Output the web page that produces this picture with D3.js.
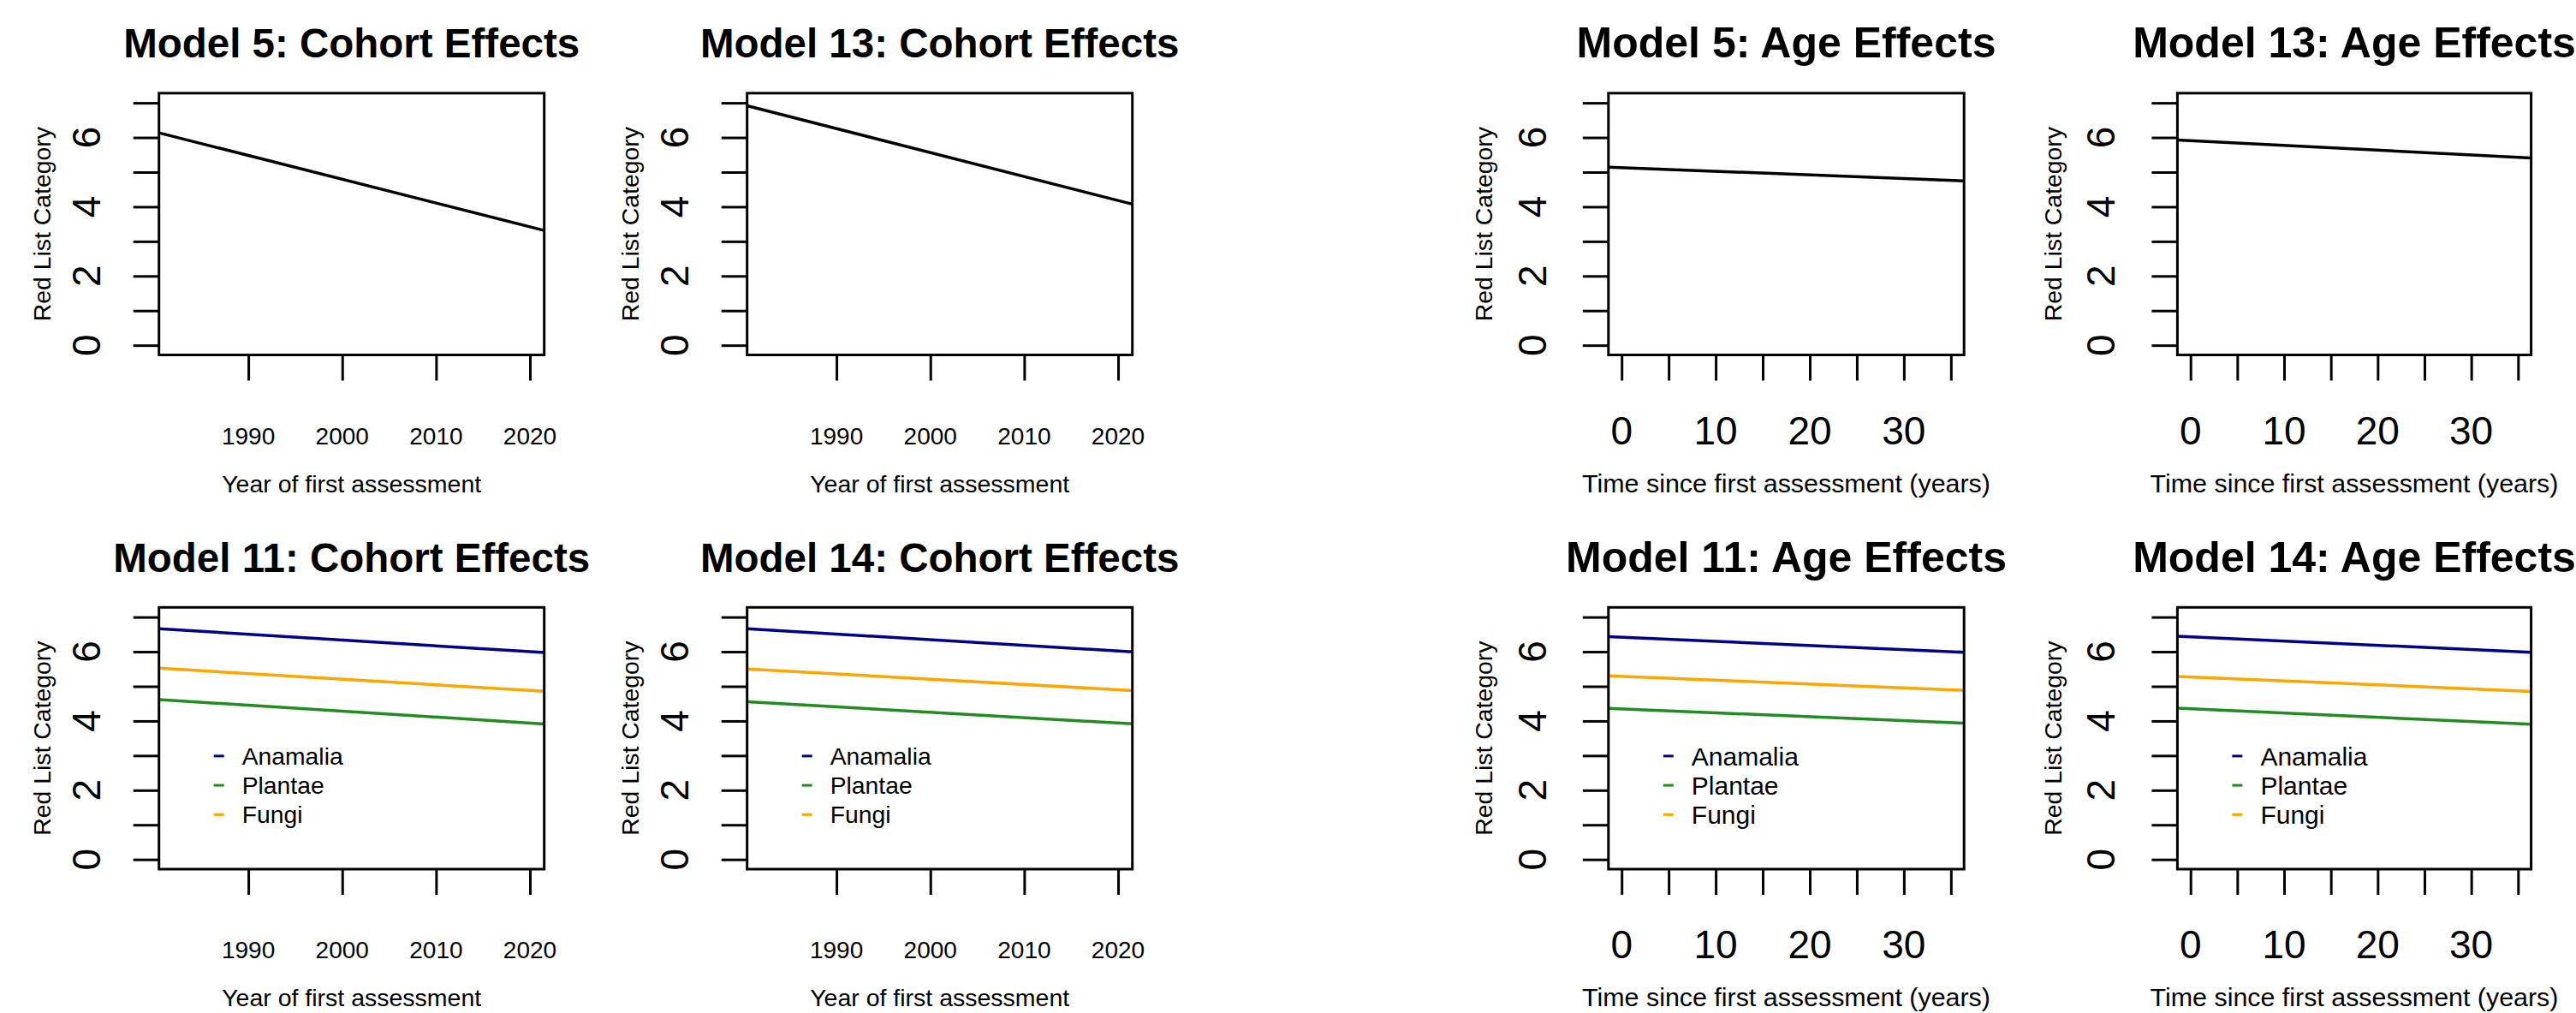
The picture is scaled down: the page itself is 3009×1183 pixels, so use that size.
<!DOCTYPE html>
<html>
<head>
<meta charset="utf-8">
<script src="https://cdn.jsdelivr.net/npm/d3@7"></script>
<style>
  html, body { margin: 0; padding: 0; background: #fff; }
  svg { display: block; }
  text { font-family: "Liberation Sans", Arial, sans-serif; fill: #000; }
</style>
</head>
<body>
<svg id="chart"></svg>
<script>
// axis ranges and ticks
const cohortLim = [1982, 2020];
const ageLim = [0, 35];
const yLim = [0, 7];
const cohortTicks = [1990, 2000, 2010, 2020];
const ageTicks = [0, 5, 10, 15, 20, 25, 30, 35];
const ageTickLabels = [0, 10, 20, 30];
const yTicks = [0, 1, 2, 3, 4, 5, 6, 7];
const yTickLabels = [0, 2, 4, 6];

const kingdoms = ["Anamalia", "Plantae", "Fungi"];
const kingdomColors = ["#00008B", "#228B22", "#FFA500"];

// fitted values at start / end of the x limits
const m5Cohort = [6.03, 3.42];
const m13Cohort = [6.81, 4.18];
const m5Age = [5.13, 4.76];
const m13Age = [5.91, 5.43];
// order: Anamalia, Plantae, Fungi
const m11Cohort = [[6.64, 6.00], [4.59, 3.94], [5.50, 4.88]];
const m14Cohort = [[6.64, 6.02], [4.53, 3.94], [5.48, 4.90]];
const m11Age = [[6.42, 6.00], [4.35, 3.95], [5.29, 4.90]];
const m14Age = [[6.43, 6.00], [4.35, 3.92], [5.27, 4.87]];

const W = 3009, H = 1183;
const svg = d3.select("#chart").attr("width", W).attr("height", H);
svg.append("rect").attr("width", W).attr("height", H).attr("fill", "#fff");

// R style 4% axis padding
const pad = ([a, b]) => [a - 0.04 * (b - a), b + 0.04 * (b - a)];

const cols = [
  {x0: 185.7, x1: 635.7, type: "cohort"},
  {x0: 872.7, x1: 1322.7, type: "cohort"},
  {x0: 1878.8, x1: 2294.2, type: "age"},
  {x0: 2543.4, x1: 2956.6, type: "age"}
];
const rowTop = [108.8, 709.3];
const boxH = 305.7;

const styles = {
  cohort: {title: 47.5, xTitle: 28.5, xTick: 28, yTickOff: 85, yTitleOff: 134, legend: 28.3,
           xlab: "Year of first assessment", lim: cohortLim, ticks: cohortTicks, labels: cohortTicks, kind: "Cohort"},
  age: {title: 50, xTitle: 30.4, xTick: 46, yTickOff: 89.5, yTitleOff: 143, legend: 30,
        xlab: "Time since first assessment (years)", lim: ageLim, ticks: ageTicks, labels: ageTickLabels, kind: "Age"}
};

const single = v => [{values: v, color: "#000"}];
const multi = arr => arr.map((v, i) => ({values: v, color: kingdomColors[i], name: kingdoms[i]}));

const panels = [
  {row: 0, col: 0, model: 5, series: single(m5Cohort)},
  {row: 0, col: 1, model: 13, series: single(m13Cohort)},
  {row: 0, col: 2, model: 5, series: single(m5Age)},
  {row: 0, col: 3, model: 13, series: single(m13Age)},
  {row: 1, col: 0, model: 11, series: multi(m11Cohort), legend: true},
  {row: 1, col: 1, model: 14, series: multi(m14Cohort), legend: true},
  {row: 1, col: 2, model: 11, series: multi(m11Age), legend: true},
  {row: 1, col: 3, model: 14, series: multi(m14Age), legend: true}
];

panels.forEach((p, idx) => {
  const c = cols[p.col];
  const st = styles[c.type];
  const w = c.x1 - c.x0;
  const top = rowTop[p.row];
  const g = svg.append("g").attr("transform", `translate(${c.x0},${top})`);

  const x = d3.scaleLinear().domain(pad(st.lim)).range([0, w]);
  const y = d3.scaleLinear().domain(pad(yLim)).range([boxH, 0]);

  const clipId = "clip" + idx;
  g.append("clipPath").attr("id", clipId)
    .append("rect").attr("width", w).attr("height", boxH);

  // regression lines, spanning the whole plot region like abline
  const dom = x.domain();
  const line = d3.line().x(d => x(d[0])).y(d => y(d[1]));
  p.series.forEach(s => {
    const slope = (s.values[1] - s.values[0]) / (st.lim[1] - st.lim[0]);
    const at = t => s.values[0] + slope * (t - st.lim[0]);
    g.append("path")
      .attr("clip-path", `url(#${clipId})`)
      .attr("d", line(dom.map(t => [t, at(t)])))
      .attr("fill", "none")
      .attr("stroke", s.color)
      .attr("stroke-width", 3.5);
  });

  // box
  g.append("rect").attr("width", w).attr("height", boxH)
    .attr("fill", "none").attr("stroke", "#000").attr("stroke-width", 3);

  // axes (ticks only)
  const yAx = g.append("g")
    .call(d3.axisLeft(y).tickValues(yTicks).tickSize(30).tickFormat(""));
  const xAx = g.append("g").attr("transform", `translate(0,${boxH})`)
    .call(d3.axisBottom(x).tickValues(st.ticks).tickSize(30).tickFormat(""));
  [yAx, xAx].forEach(a => {
    a.select(".domain").remove();
    a.selectAll(".tick line").attr("stroke", "#000").attr("stroke-width", 3);
  });

  // y tick labels, rotated like R's las=0
  g.selectAll(".ylab").data(yTickLabels).join("text")
    .attr("transform", d => `translate(${-st.yTickOff},${y(d)}) rotate(-90)`)
    .attr("text-anchor", "middle")
    .attr("dy", "0.36em")
    .style("font-size", "46px")
    .text(d => d);

  // y title
  g.append("text")
    .attr("transform", `translate(${-st.yTitleOff},${boxH / 2}) rotate(-90)`)
    .attr("text-anchor", "middle")
    .attr("dy", "0.26em")
    .style("font-size", "28.4px")
    .text("Red List Category");

  // x tick labels
  g.selectAll(".xlab").data(st.labels).join("text")
    .attr("x", d => x(d))
    .attr("y", 519 - 108.8)
    .attr("text-anchor", "middle")
    .style("font-size", st.xTick + "px")
    .text(d => d);

  // x title
  g.append("text")
    .attr("x", w / 2).attr("y", 575 - 108.8)
    .attr("text-anchor", "middle")
    .style("font-size", st.xTitle + "px")
    .text(st.xlab);

  // title
  g.append("text")
    .attr("x", w / 2).attr("y", 67 - 108.8)
    .attr("text-anchor", "middle")
    .style("font-size", st.title + "px")
    .style("font-weight", "bold")
    .text(`Model ${p.model}: ${st.kind} Effects`);

  if (p.legend) {
    const lg = g.append("g");
    p.series.forEach((s, i) => {
      const cy = 173.6 + i * 34.2;
      lg.append("line").attr("x1", 64).attr("x2", 76).attr("y1", cy).attr("y2", cy)
        .attr("stroke", s.color).attr("stroke-width", 3);
      lg.append("text").attr("x", 97).attr("y", cy).attr("dy", "0.36em")
        .style("font-size", st.legend + "px")
        .text(s.name);
    });
  }
});
</script>
</body>
</html>
